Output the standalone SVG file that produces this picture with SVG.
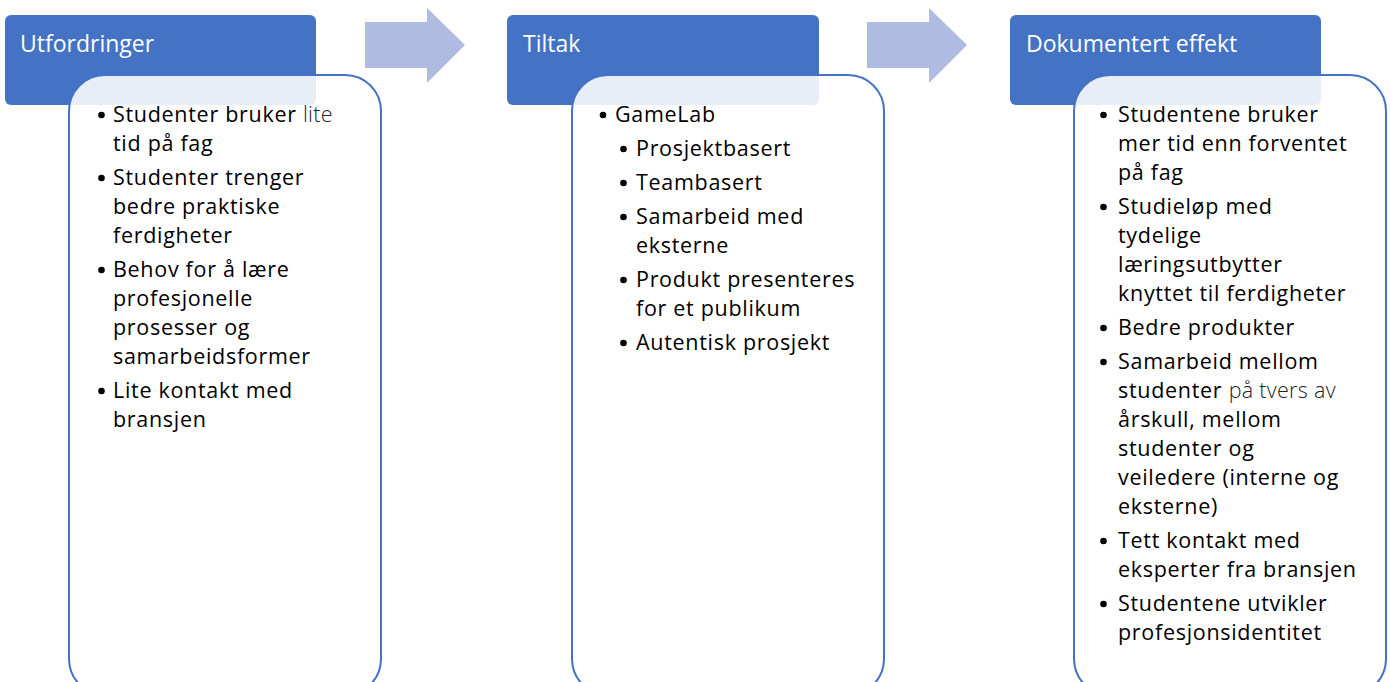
<svg xmlns="http://www.w3.org/2000/svg" width="1390" height="682" viewBox="0 0 1390 682">
<style>
.hdr{fill:#4472C4}
.box{fill:#ffffff;fill-opacity:0.88;stroke:#4472C4;stroke-width:2}
.arrow{fill:#AFBBE0}
.ht{font-family:"Open Sans","Noto Sans",sans-serif;font-size:23px;fill:#ffffff}
.bt{font-family:"Open Sans","Noto Sans",sans-serif;font-size:21.5px;letter-spacing:0.7px;fill:#000000}
.lt{font-weight:300;fill:#222222;letter-spacing:0.3px}
.bul{fill:#000000}
</style>
<rect width="1390" height="682" fill="#ffffff"/>
<g id="connectors">
<polygon class="arrow" points="365,22 427,22 427,8 465,45 427,83 427,68 365,68"/>
<polygon class="arrow" points="867,22 929,22 929,8 967,45 929,83 929,68 867,68"/>
</g>
<g id="utfordringer">
<rect class="hdr" x="5" y="15" width="311" height="90" rx="6"/>
<text class="ht" x="20" y="52">Utfordringer</text>
<rect class="box" x="69" y="75" width="312" height="620" rx="36"/>
<g class="bul">
<circle cx="101.5" cy="115" r="3.3"/>
<circle cx="101.5" cy="178" r="3.3"/>
<circle cx="101.5" cy="270" r="3.3"/>
<circle cx="101.5" cy="391" r="3.3"/>
</g>
<text class="bt">
<tspan x="113" y="122">Studenter bruker <tspan class="lt">lite</tspan></tspan>
<tspan x="113" y="151">tid på fag</tspan>
<tspan x="113" y="185">Studenter trenger</tspan>
<tspan x="113" y="214">bedre praktiske</tspan>
<tspan x="113" y="243">ferdigheter</tspan>
<tspan x="113" y="277">Behov for å lære</tspan>
<tspan x="113" y="306">profesjonelle</tspan>
<tspan x="113" y="335">prosesser og</tspan>
<tspan x="113" y="364">samarbeidsformer</tspan>
<tspan x="113" y="398">Lite kontakt med</tspan>
<tspan x="113" y="427">bransjen</tspan>
</text>
</g>
<g id="tiltak">
<rect class="hdr" x="507" y="15" width="312" height="90" rx="6"/>
<text class="ht" x="523" y="52">Tiltak</text>
<rect class="box" x="572" y="75" width="312" height="620" rx="36"/>
<g class="bul">
<circle cx="603" cy="115" r="3.3"/>
<circle cx="623.5" cy="149" r="3.3"/>
<circle cx="623.5" cy="183" r="3.3"/>
<circle cx="623.5" cy="217" r="3.3"/>
<circle cx="623.5" cy="280" r="3.3"/>
<circle cx="623.5" cy="343" r="3.3"/>
</g>
<text class="bt">
<tspan x="615" y="122">GameLab</tspan>
<tspan x="636" y="156">Prosjektbasert</tspan>
<tspan x="636" y="190">Teambasert</tspan>
<tspan x="636" y="224">Samarbeid med</tspan>
<tspan x="636" y="253">eksterne</tspan>
<tspan x="636" y="287">Produkt presenteres</tspan>
<tspan x="636" y="316">for et publikum</tspan>
<tspan x="636" y="350">Autentisk prosjekt</tspan>
</text>
</g>
<g id="dokumentert-effekt">
<rect class="hdr" x="1010" y="15" width="311" height="90" rx="6"/>
<text class="ht" x="1026" y="52">Dokumentert effekt</text>
<rect class="box" x="1074" y="75" width="312" height="620" rx="36"/>
<g class="bul">
<circle cx="1103.5" cy="115" r="3.3"/>
<circle cx="1103.5" cy="207" r="3.3"/>
<circle cx="1103.5" cy="328" r="3.3"/>
<circle cx="1103.5" cy="362" r="3.3"/>
<circle cx="1103.5" cy="541" r="3.3"/>
<circle cx="1103.5" cy="604" r="3.3"/>
</g>
<text class="bt">
<tspan x="1118" y="122">Studentene bruker</tspan>
<tspan x="1118" y="151">mer tid enn forventet</tspan>
<tspan x="1118" y="180">på fag</tspan>
<tspan x="1118" y="214">Studieløp med</tspan>
<tspan x="1118" y="243">tydelige</tspan>
<tspan x="1118" y="272">læringsutbytter</tspan>
<tspan x="1118" y="301">knyttet til ferdigheter</tspan>
<tspan x="1118" y="335">Bedre produkter</tspan>
<tspan x="1118" y="369">Samarbeid mellom</tspan>
<tspan x="1118" y="398">studenter <tspan class="lt">på tvers av</tspan></tspan>
<tspan x="1118" y="427">årskull, mellom</tspan>
<tspan x="1118" y="456">studenter og</tspan>
<tspan x="1118" y="485">veiledere (interne og</tspan>
<tspan x="1118" y="514">eksterne)</tspan>
<tspan x="1118" y="548">Tett kontakt med</tspan>
<tspan x="1118" y="577">eksperter fra bransjen</tspan>
<tspan x="1118" y="611">Studentene utvikler</tspan>
<tspan x="1118" y="640">profesjonsidentitet</tspan>
</text>
</g>
</svg>
